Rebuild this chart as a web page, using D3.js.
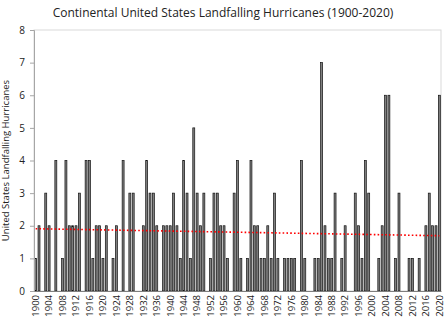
<!DOCTYPE html>
<html><head><meta charset="utf-8">
<script src="https://cdn.jsdelivr.net/npm/d3@7"></script>
<style>body{margin:0;background:#fff;} svg{display:block;}</style>
</head><body>
<svg id="chart" width="445" height="323"></svg>
<script>
const years = d3.range(1900, 2021);
const hurricanes = [
1,2,0,3,2,0,4,0,1,4,
2,2,2,3,0,4,4,1,2,2,
1,2,0,1,2,0,4,0,3,3,
0,0,2,4,3,3,2,0,2,2,
2,3,2,1,4,3,1,5,3,2,
3,0,1,3,3,2,2,1,0,3,
4,1,0,1,4,2,2,1,1,2,
1,3,1,0,1,1,1,1,0,4,
1,0,0,1,1,7,2,1,1,3,
0,1,2,0,0,3,2,1,4,3,
0,0,1,2,6,6,0,1,3,0,
0,1,1,0,1,0,2,3,2,2,6];
const yTicks = [0,1,2,3,4,5,6,7,8];
const xTickYears = years.filter(y => (y - 1900) % 4 === 0);
const titleText = "Continental United States Landfalling Hurricanes (1900-2020)";
const yTitle = "United States Landfalling Hurricanes";

const svg = d3.select("#chart");
const m = {l:34, r:4, t:30, b:32};
const W = 445, H = 323;
const x = d3.scaleBand().domain(years).range([m.l, W - m.r]).paddingInner(0.42).paddingOuter(0.2);
const y = d3.scaleLinear().domain([0, 8]).range([H - m.b, m.t]);
const font = "'Open Sans', 'Liberation Sans', sans-serif";

// plot border
svg.append("rect").attr("x", m.l).attr("y", m.t).attr("width", W - m.r - m.l).attr("height", H - m.b - m.t)
  .attr("fill", "none").attr("stroke", "#d9d9d9").attr("stroke-width", 1);

// bars
svg.append("g").selectAll("rect").data(years).join("rect")
  .attr("x", d => x(d))
  .attr("y", (d,i) => y(hurricanes[i]))
  .attr("width", x.bandwidth())
  .attr("height", (d,i) => y(0) - y(hurricanes[i]))
  .attr("fill", "#808080").attr("stroke", "#111").attr("stroke-width", 0.7);

// trend line (least squares)
const mx = d3.mean(years), my = d3.mean(hurricanes);
let sxy = 0, sxx = 0;
years.forEach((yr,i) => { sxy += (yr-mx)*(hurricanes[i]-my); sxx += (yr-mx)*(yr-mx); });
const slope = sxy/sxx, icpt = my - slope*mx;
svg.append("line")
  .attr("x1", x(1900) + x.bandwidth()/2).attr("x2", x(2020) + x.bandwidth()/2)
  .attr("y1", y(icpt + slope*1900)).attr("y2", y(icpt + slope*2020))
  .attr("stroke", "#ff0000").attr("stroke-width", 1.6).attr("stroke-dasharray", "1.6,2.2");

// y axis
const yAxis = d3.axisLeft(y).tickValues(yTicks).tickSize(4).tickPadding(5);
const gy = svg.append("g").attr("transform", `translate(${m.l},0)`).call(yAxis);
gy.select(".domain").attr("stroke", "#a6a6a6");
gy.selectAll(".tick line").attr("stroke", "#a6a6a6");
gy.selectAll(".tick text").attr("font-family", font).attr("font-size", 10).attr("fill", "#222");

// x axis
const xAxis = d3.axisBottom(x).tickValues(xTickYears).tickSize(0).tickPadding(0);
const gx = svg.append("g").attr("transform", `translate(0,${H - m.b})`).call(xAxis);
gx.select(".domain").attr("stroke", "#7f7f7f");
gx.selectAll(".tick text")
  .attr("font-family", font).attr("font-size", 9.5).attr("fill", "#222")
  .attr("transform", "rotate(-90)").attr("text-anchor", "end")
  .attr("x", -4).attr("y", 0).attr("dy", "0.35em");

// title
svg.append("text").attr("x", 223).attr("y", 17).attr("text-anchor", "middle")
  .attr("font-family", font).attr("font-size", 12).attr("fill", "#222").text(titleText);

// y title
svg.append("text").attr("transform", `translate(9,${(m.t + H - m.b)/2}) rotate(-90)`)
  .attr("text-anchor", "middle").attr("font-family", font).attr("font-size", 9.5).attr("fill", "#222").text(yTitle);
</script>
</body></html>
